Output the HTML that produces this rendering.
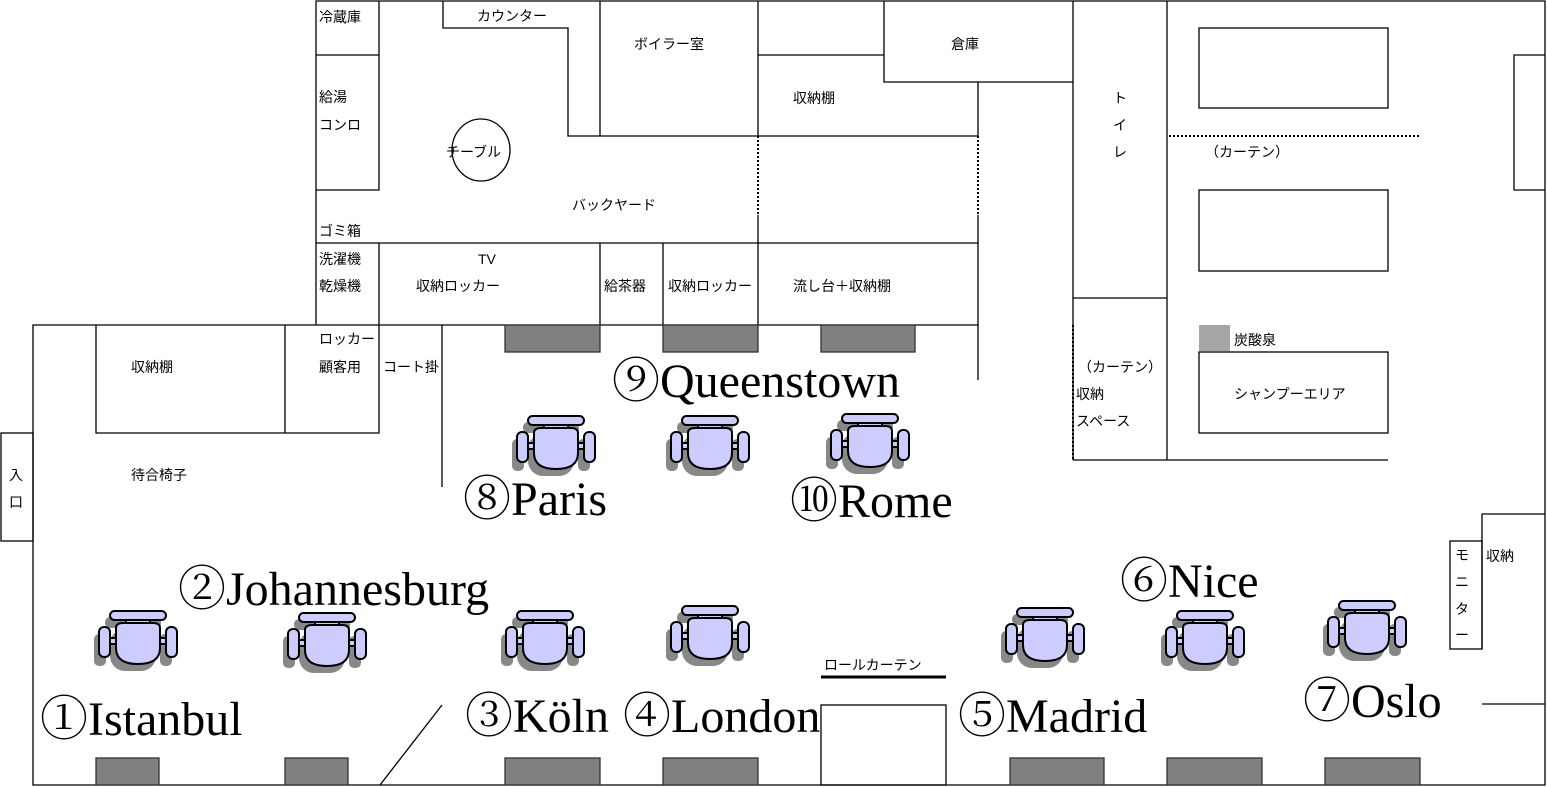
<!DOCTYPE html>
<html><head><meta charset="utf-8"><style>
html,body{margin:0;padding:0;background:#fff}
svg{display:block}
.s{font-family:"Liberation Sans","Noto Sans CJK JP",sans-serif;font-size:14px;fill:#000}
.b{font-family:"Liberation Serif","Noto Serif CJK SC",serif;font-size:48px;fill:#000}
</style></head><body>
<svg width="1547" height="787" viewBox="0 0 1547 787" xmlns="http://www.w3.org/2000/svg">
<defs>
<g id="ch">
 <g transform="translate(-5,7)" fill="#888" stroke="none">
  <rect x="-28" y="-30" width="56" height="11" rx="5"/>
  <rect x="-23" y="-18" width="46" height="42" rx="15"/>
  <rect x="-39" y="-13" width="12" height="32" rx="5"/>
  <rect x="27" y="-13" width="12" height="32" rx="5"/>
 </g>
 <g fill="#ccccff" stroke="#000" stroke-width="2">
  <rect x="-12" y="-21" width="24" height="5"/>
  <rect x="-28" y="-29" width="56" height="9" rx="4.5"/>
  <rect x="-28" y="-2" width="56" height="6"/>
  <rect x="-39" y="-13" width="11" height="30" rx="5"/>
  <rect x="28" y="-13" width="11" height="30" rx="5"/>
  <path d="M-22,-12 Q-22,-17 -15,-17 L15,-17 Q22,-17 22,-12 L22,8 Q22,24 0,24 Q-22,24 -22,8 Z"/>
 </g>
</g>
</defs>
<g fill="none" stroke="#000" stroke-width="1.3">
 <path d="M316,325 V1 H1545 V785 H33 V325 H978"/>
 <rect x="1" y="433" width="32" height="108"/>
 <path d="M316,55 H379 M379,1 V190 H316"/>
 <path d="M443,1 V28 H568 V136 H978"/>
 <path d="M600,1 V136"/>
 <path d="M758,1 V136 M758,215 V325"/>
 <path d="M758,55 H884 M884,1 V82 H1073"/>
 <path d="M978,82 V136 M978,215 V380"/>
 <path d="M316,243 H978"/>
 <path d="M379,243 V325 M600,243 V325 M663,243 V325"/>
 <path d="M96,325 V433 H379 V325 M285,325 V433"/>
 <path d="M442,325 V487"/>
 <path d="M1073,1 V460 M1167,1 V460 M1073,298 H1167 M1073,460 H1388"/>
 <rect x="1199" y="28" width="189" height="80"/>
 <rect x="1199" y="190" width="189" height="81"/>
 <rect x="1199" y="352" width="189" height="81"/>
 <path d="M1545,55 H1514 V190 H1545"/>
 <path d="M1482,649 V514 H1545 M1482,704 H1545"/>
 <rect x="1450" y="541" width="32" height="108"/>
 <path d="M380,785 L442,705"/>
 <rect x="821" y="705" width="125" height="80"/>
 <ellipse cx="481" cy="150" rx="29" ry="31"/>
</g>
<g stroke="#000" stroke-width="2" stroke-dasharray="2,2" fill="none">
 <path d="M758,136 V215 M978,136 V215 M1073,325 V460 M1169,136 H1420"/>
</g>
<path d="M821,677 H946" stroke="#000" stroke-width="3"/>
<g fill="#808080" stroke="#333" stroke-width="1.3">
 <rect x="505" y="325" width="95" height="27"/><rect x="663" y="325" width="95" height="27"/><rect x="821" y="325" width="94" height="27"/>
 <rect x="96" y="758" width="63" height="27"/><rect x="285" y="758" width="63" height="27"/><rect x="505" y="758" width="95" height="27"/>
 <rect x="663" y="758" width="95" height="27"/><rect x="1010" y="758" width="94" height="27"/><rect x="1167" y="758" width="95" height="27"/><rect x="1325" y="758" width="95" height="27"/>
</g>
<rect x="1199" y="325" width="31" height="26" fill="#a6a6a6"/>
<use href="#ch" x="138" y="640"/><use href="#ch" x="327" y="642"/><use href="#ch" x="545" y="640"/>
<use href="#ch" x="710" y="635"/><use href="#ch" x="1045" y="637"/><use href="#ch" x="1205" y="640"/>
<use href="#ch" x="1367" y="630"/><use href="#ch" x="556" y="445"/><use href="#ch" x="710" y="445"/><use href="#ch" x="870" y="443"/>
<g class="s">
<text x="319" y="22">冷蔵庫</text><text x="319" y="102">給湯</text><text x="319" y="130">コンロ</text>
<text x="446" y="157">チーブル</text><text x="477" y="21">カウンター</text><text x="634" y="49">ボイラー室</text>
<text x="951" y="49">倉庫</text><text x="793" y="103">収納棚</text><text x="572" y="210">バックヤード</text>
<text x="319" y="236">ゴミ箱</text><text x="319" y="264">洗濯機</text><text x="319" y="291">乾燥機</text>
<text x="478" y="264">TV</text><text x="416" y="291">収納ロッカー</text><text x="604" y="291">給茶器</text>
<text x="668" y="291">収納ロッカー</text><text x="793" y="291">流し台＋収納棚</text>
<text x="319" y="344">ロッカー</text><text x="319" y="372">顧客用</text><text x="383" y="372">コート掛</text>
<text x="131" y="372">収納棚</text><text x="131" y="480">待合椅子</text>
<text x="1113" y="103">ト</text><text x="1113" y="130">イ</text><text x="1113" y="157">レ</text>
<text x="1205" y="157">（カーテン）</text><text x="1234" y="345">炭酸泉</text><text x="1234" y="399">シャンプーエリア</text>
<text x="1078" y="372">（カーテン）</text><text x="1076" y="399">収納</text><text x="1076" y="426">スペース</text>
<text x="1486" y="561">収納</text>
<text x="1455" y="560">モ</text><text x="1455" y="587">ニ</text><text x="1455" y="614">タ</text><text x="1455" y="640">ー</text>
<text x="9" y="480">入</text><text x="9" y="507">口</text>
<text x="824" y="670">ロールカーテン</text>
</g>
<g class="b">
<text x="40" y="735">①Istanbul</text><text x="178" y="605">②Johannesburg</text>
<text x="465" y="732">③Köln</text><text x="623" y="732">④London</text>
<text x="958" y="732">⑤Madrid</text><text x="1120" y="597">⑥Nice</text>
<text x="1303" y="717">⑦Oslo</text><text x="463" y="515">⑧Paris</text>
<text x="612" y="397">⑨Queenstown</text><text x="790" y="517">⑩Rome</text>
</g>
</svg>
</body></html>
